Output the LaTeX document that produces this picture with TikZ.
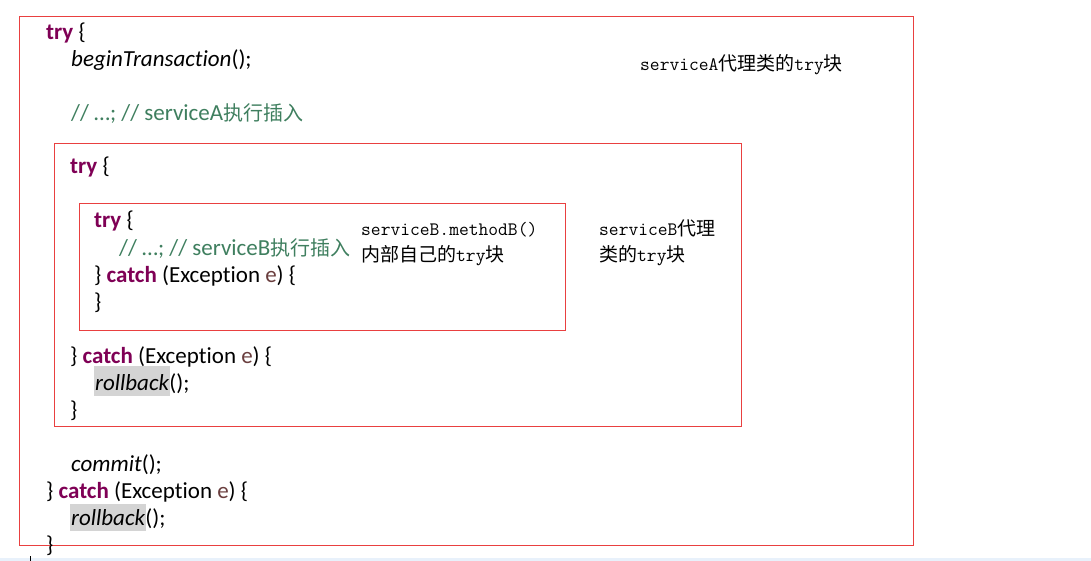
\documentclass[tikz,border=0pt]{standalone}
\usepackage{fontspec}
\setmainfont{Carlito}[Ligatures=NoCommon]
\newfontfamily\codecjk{Noto Sans CJK SC}
\newfontfamily\notecjk{Noto Sans CJK SC}
\definecolor{kwc}{HTML}{7F0055}
\definecolor{cmc}{HTML}{3F7F5F}
\definecolor{varc}{HTML}{6A3E3E}
\definecolor{boxred}{RGB}{233,64,64}
\definecolor{hl}{HTML}{D4D4D4}
\definecolor{strip}{RGB}{232,241,251}
\newcommand\kw[1]{\textcolor{kwc}{\textbf{#1}}}
\newcommand\cm[1]{\textcolor{cmc}{#1}}
\newcommand\vr[1]{\textcolor{varc}{#1}}
\newcommand\czh[1]{{\codecjk\fontsize{20}{24}\selectfont #1}}
\newcommand\nzh[1]{{\notecjk\fontsize{19}{20}\selectfont #1}}
\tikzset{
  x=1pt, y=-1pt,
  code/.style={anchor=base west, inner sep=0pt, font=\fontsize{23}{27}\selectfont},
  note/.style={anchor=base west, inner sep=0pt, font=\ttfamily\fontsize{19}{25}\selectfont},
  redbox/.style={draw=boxred, line width=1pt, anchor=north west, inner sep=0pt}
}
\begin{document}
\begin{tikzpicture}
\useasboundingbox (0,0) rectangle (1091,561);
\fill[white] (0,0) rectangle (1091,561);
\fill[strip] (0,558) rectangle (1091,561);
\coordinate (tickA) at (30,556);
\coordinate (tickB) at (30,561);
\draw[black, line width=1pt] (tickA) -- (tickB);
% boxes
\node[redbox, minimum width=894pt, minimum height=529pt] (outer) at (19,16) {};
\node[redbox, minimum width=687pt, minimum height=283pt] (middle) at (54,143) {};
\node[redbox, minimum width=486pt, minimum height=127pt] (inner) at (79,203) {};
% highlights
\fill[hl] (94,366) rectangle (170,396);
\fill[hl] (70,504) rectangle (146,531);
% outer code
\node[code] (l1) at (46,40) {\kw{try} \{};
\node[code] (l2) at (71,67) {\textit{beginTransaction}();};
\node[code] (l3) at (71,121) {\cm{// …; // serviceA\czh{执行插入}}};
% middle
\node[code] (m1) at (70,174) {\kw{try} \{};
% inner
\node[code] (i1) at (94,228) {\kw{try} \{};
\node[code] (i2) at (119,255) {\cm{// …; // serviceB\czh{执行插入}}};
\node[code] (i3) at (94,282) {\} \kw{catch} (Exception \vr{e}) \{};
\node[code] (i4) at (94,309) {\}};
% middle catch
\node[code] (m2) at (70,363) {\} \kw{catch} (Exception \vr{e}) \{};
\node[code] (m3) at (95,390) {\textit{rollback}();};
\node[code] (m4) at (70,417) {\}};
% outer end
\node[code] (l4) at (71,471) {\textit{commit}();};
\node[code] (l5) at (46,498) {\} \kw{catch} (Exception \vr{e}) \{};
\node[code] (l6) at (71,525) {\textit{rollback}();};
\node[code] (l7) at (46,552) {\}};
% notes
\node[note] (na) at (640,71) {serviceA\nzh{代理类的}try\nzh{块}};
\node[note] (nb1) at (361,236) {serviceB.methodB()};
\node[note] (nb2) at (361,261) {\nzh{内部自己的}try\nzh{块}};
\node[note] (nc1) at (599,236) {serviceB\nzh{代理}};
\node[note] (nc2) at (599,261) {\nzh{类的}try\nzh{块}};
\end{tikzpicture}
\end{document}
